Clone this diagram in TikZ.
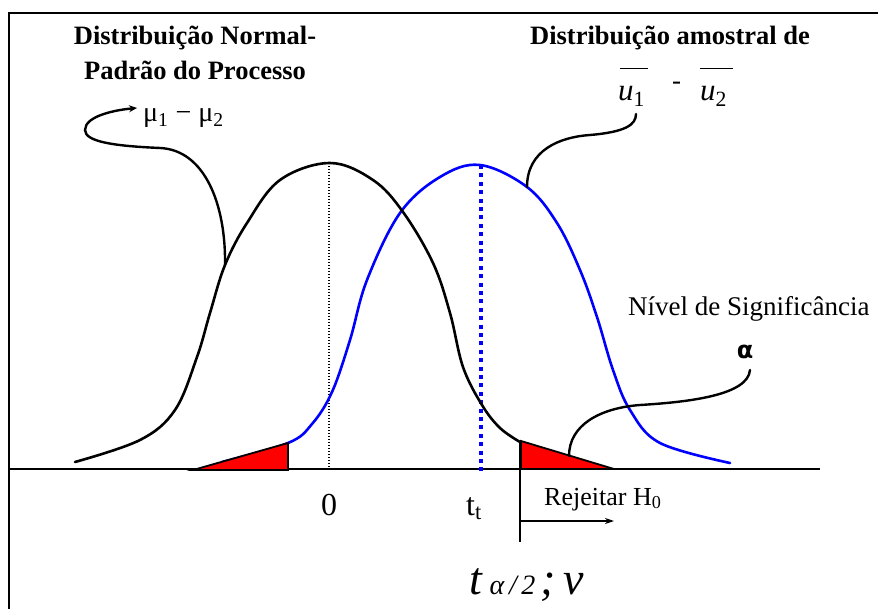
\documentclass[tikz,border=0pt]{standalone}
\usepackage{fontspec}
\setmainfont{Liberation Serif}
\newfontfamily\dvsans{DejaVu Sans}
\usetikzlibrary{arrows.meta}
\begin{document}
\begin{tikzpicture}[x=1pt,y=-1pt,
  curve/.style={line width=2.6pt, line join=round, line cap=round},
  lead/.style={line width=2.4pt, line cap=round},
  tailarea/.style={fill=red, draw=black, line width=1.8pt, line join=miter},
  lbl/.style={inner sep=0pt, anchor=base west},
  head/.style={inner sep=0pt, anchor=base, font=\fontsize{26.5}{30}\selectfont\bfseries},
  big/.style={font=\fontsize{27}{30}\selectfont},
]
\useasboundingbox (0,0) rectangle (878,609);
\fill[white] (0,0) rectangle (878,609);
% frame
\draw[line width=1.8pt] (9,609) -- (9,13) -- (878,13);
% axis
\draw[line width=1.6pt] (10,469) -- (820,469);
% mean lines
\draw[line width=1.2pt, dash pattern=on 1.2pt off 1.8pt] (329,163) -- (329,469);
\draw[blue, line width=3.5pt, dash pattern=on 4pt off 4.4pt] (481,165) -- (481,472);
% blue curve
\draw[curve, blue] plot[smooth, tension=0.6] coordinates {(222,462) (288,443) (312,424) (332,392) (350,340) (367,280) (400,213) (440,177) (480,165) (527,187) (557,223) (580,270) (597,317) (613,370) (630,410) (660,443) (730,463)};
% black curve
\draw[curve] plot[smooth, tension=0.6] coordinates {(75,462) (140,440) (175,410) (197,357) (210,313) (225,265) (247,223) (280,180) (330,163) (373,180) (403,212) (433,263) (450,313) (463,367) (482,405) (500,428) (520,442)};
% rejection areas
\draw[tailarea] (193,470) -- (288,443) -- (288,470) -- cycle;
\draw[tailarea] (521,441) -- (614,469) -- (521,469) -- cycle;
% rejection marker
\coordinate (rtop) at (520,441);
\coordinate (rbot) at (520,542);
\coordinate (aStart) at (520,521);
\coordinate (aEnd) at (614,521);
\draw[line width=1.8pt] (rtop) -- (rbot);
\draw[line width=1.6pt, -{Stealth[length=9pt,width=6pt]}] (aStart) -- (aEnd);
% leaders
\coordinate (bL) at (225,265);
\coordinate (muTip) at (137,108);
\coordinate (bR) at (527,187);
\coordinate (uTip) at (636,114);
\coordinate (aT) at (569,456);
\coordinate (alTip) at (750,370);
\draw[lead, -{Stealth[length=8pt,width=7pt]}] (bL) .. controls (226,205) and (205,150) .. (160,148) .. controls (115,146) and (85,142) .. (85,130) .. controls (85,116) and (115,110) .. (muTip);
\draw[lead] (bR) .. controls (527,150) and (560,137) .. (590,135) .. controls (625,132) and (636,125) .. (uTip);
\draw[lead] (aT) .. controls (569,425) and (600,408) .. (640,405) .. controls (690,402) and (748,395) .. (alTip);
% texts
\node[head] (h1) at (195,45) {Distribuição Normal-};
\node[head] (h2) at (195,80) {Padrão do Processo};
\node[head] (h3) at (670,45) {Distribuição amostral de};
\node[lbl, font=\fontsize{31}{34}\selectfont] (u1) at (618,101) {\itshape u\textsubscript{\upshape 1}};
\node[lbl, big] (minus) at (672,90) {-};
\node[lbl, font=\fontsize{31}{34}\selectfont] (u2) at (700,101) {\itshape u\textsubscript{\upshape 2}};
\draw[line width=1pt] (620,69) -- (648,69);
\draw[line width=1pt] (700,69) -- (733,69);
\node[lbl, font=\fontsize{28}{30}\selectfont] (mu) at (143,122) {μ\textsubscript{1} − μ\textsubscript{2}};
\node[lbl, big] (niv) at (628,316) {Nível de Significância};
\node[inner sep=0pt, font=\dvsans\bfseries\fontsize{24}{28}\selectfont] (alpha) at (745,352) {α};
\node[inner sep=0pt, anchor=base, font=\fontsize{32}{34}\selectfont] (zero) at (329,515) {0};
\node[lbl, font=\fontsize{32}{34}\selectfont] (tt) at (466,515) {t\textsubscript{t}};
\node[lbl, font=\fontsize{26}{30}\selectfont] (rej) at (544,505) {Rejeitar H\textsubscript{0}};
\node[lbl, font=\fontsize{46}{48}\selectfont] (ta) at (469,594) {\itshape t\,{\fontsize{28}{30}\selectfont α\,/\,2\,};\,ν};
\end{tikzpicture}
\end{document}
